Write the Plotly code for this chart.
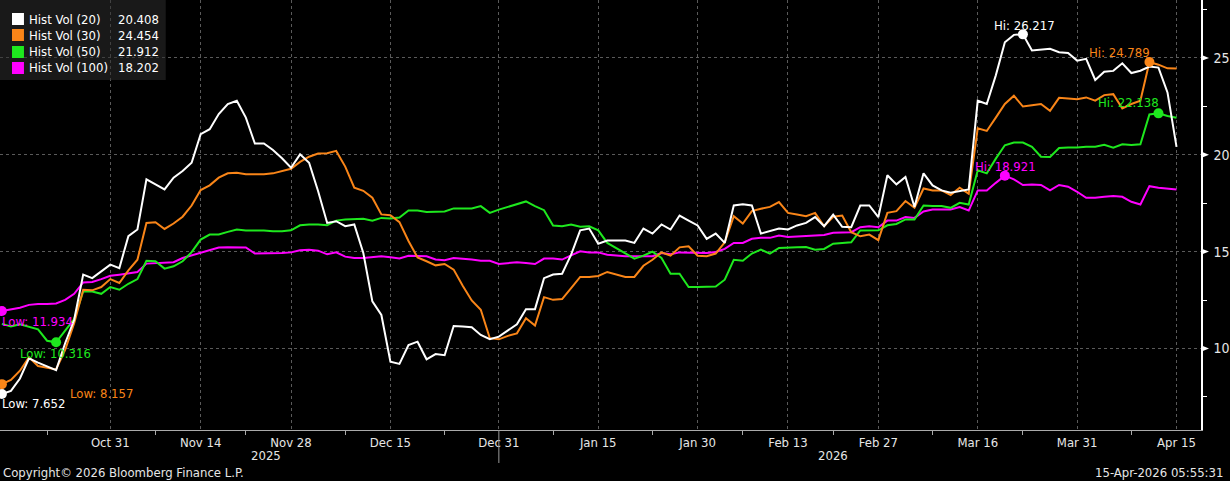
import pandas as pd
import plotly.graph_objects as go

# ---------------- data ----------------
dates = pd.bdate_range("2025-10-15", "2026-04-15")

hv20 = [7.652, 7.81, 8.45, 9.49, 9.27, 9.06, 8.88, 10.27, 11.48, 13.81,
        13.63, 13.98, 14.33, 14.15, 15.8, 16.14, 18.73, 18.47, 18.21, 18.82,
        19.16, 19.59, 21.06, 21.32, 22.1, 22.62, 22.79, 21.92, 20.58, 20.58,
        20.25, 19.82, 19.33, 20.02, 19.59, 18.12, 16.48, 16.57, 16.31, 16.4,
        14.93, 12.43, 11.73, 9.32, 9.2, 10.18, 10.35, 9.44, 9.71, 9.65,
        11.16, 11.13, 11.1, 10.7, 10.48, 10.61, 10.92, 11.25, 12.03, 12.03,
        13.63, 13.82, 13.86, 14.84, 16.1, 16.19, 15.41, 15.57, 15.57, 15.57,
        15.45, 16.19, 15.93, 16.4, 16.14, 16.86, 16.6, 16.35, 15.66, 15.93,
        15.45, 17.38, 17.44, 17.38, 15.93, 16.05, 16.19, 16.14, 16.35, 16.48,
        16.78, 16.31, 16.91, 16.28, 16.26, 17.38, 17.38, 16.78, 18.94, 18.47,
        18.85, 17.3, 19.04, 18.42, 18.16, 18.04, 18.12, 18.21, 22.79, 22.62,
        24.1, 25.81, 26.19, 26.217, 25.38, 25.43, 25.47, 25.29, 25.26, 24.86,
        24.95, 23.86, 24.29, 24.33, 24.72, 24.22, 24.34, 24.55, 24.5, 23.22,
        20.408]

hv30 = [8.157, 8.37, 8.85, 9.54, 9.09, 9.02, 8.92, 9.92, 11.3, 13.03,
        13.0, 13.17, 13.58, 13.38, 14.03, 14.58, 16.48, 16.52, 16.17, 16.45,
        16.8, 17.38, 18.18, 18.42, 18.82, 19.04, 19.07, 18.99, 18.99, 18.99,
        19.04, 19.16, 19.28, 19.63, 19.9, 20.06, 20.08, 20.2, 19.39, 18.3,
        18.14, 17.78, 16.92, 16.88, 16.52, 15.55, 14.7, 14.5, 14.29, 14.36,
        14.07, 13.24, 12.48, 12.0, 10.53, 10.47, 10.65, 10.78, 11.56, 11.18,
        12.65, 12.51, 12.55, 13.12, 13.69, 13.69, 13.74, 13.95, 13.84, 13.69,
        13.69, 14.27, 14.58, 14.96, 14.79, 15.22, 15.27, 14.79, 14.76, 14.9,
        15.48, 16.83, 16.45, 17.09, 17.21, 17.31, 17.56, 17.0, 16.92, 16.83,
        17.0, 16.31, 16.8, 16.86, 16.0, 15.79, 15.88, 15.59, 17.0, 17.09,
        17.61, 17.26, 18.26, 18.16, 18.16, 17.92, 18.3, 17.99, 21.37, 21.23,
        21.92, 22.62, 23.05, 22.49, 22.56, 22.62, 22.27, 22.94, 22.91, 22.87,
        22.96, 22.79, 23.08, 23.13, 22.39, 22.62, 22.79, 24.789, 24.65, 24.46,
        24.454]

hv50 = [11.27, 11.13, 11.25, 11.13, 10.99, 10.4, 10.316, 10.92, 11.51, 12.94,
        12.94, 12.82, 13.17, 13.03, 13.34, 13.58, 14.53, 14.5, 14.12, 14.24,
        14.5, 14.97, 15.62, 15.88, 15.88, 16.02, 16.14, 16.09, 16.09, 16.09,
        16.05, 16.05, 16.1, 16.36, 16.4, 16.4, 16.36, 16.6, 16.66, 16.69,
        16.69, 16.6, 16.74, 16.71, 16.76, 17.12, 17.12, 17.05, 17.05, 17.07,
        17.23, 17.23, 17.23, 17.35, 17.0, 17.17, 17.31, 17.43, 17.59, 17.35,
        17.14, 16.35, 16.31, 16.4, 16.28, 16.31, 16.1, 15.45, 15.19, 14.9,
        14.64, 14.79, 15.0, 14.67, 13.86, 13.86, 13.17, 13.17, 13.17, 13.2,
        13.55, 14.58, 14.53, 14.9, 15.1, 14.9, 15.19, 15.19, 15.22, 15.24,
        15.1, 15.14, 15.41, 15.45, 15.48, 16.09, 16.09, 16.1, 16.36, 16.43,
        16.66, 16.66, 17.38, 17.35, 17.36, 17.26, 17.52, 17.43, 19.2, 19.04,
        19.8, 20.49, 20.63, 20.63, 20.41, 19.9, 19.89, 20.35, 20.37, 20.37,
        20.41, 20.42, 20.51, 20.37, 20.54, 20.51, 20.54, 22.08, 22.138, 22.0,
        21.912]

hv100 = [11.934, 12.03, 12.1, 12.25, 12.29, 12.29, 12.32, 12.51, 12.82, 13.41,
         13.43, 13.58, 13.75, 13.81, 13.89, 13.95, 14.38, 14.41, 14.41, 14.45,
         14.67, 14.81, 14.96, 15.1, 15.21, 15.22, 15.22, 15.21, 14.9, 14.9,
         14.9, 14.93, 14.96, 15.07, 15.1, 15.05, 14.86, 14.96, 14.74, 14.67,
         14.67, 14.71, 14.76, 14.71, 14.65, 14.79, 14.79, 14.76, 14.59, 14.55,
         14.67, 14.64, 14.59, 14.53, 14.53, 14.36, 14.41, 14.45, 14.41, 14.36,
         14.64, 14.64, 14.59, 14.79, 15.02, 14.96, 14.96, 14.84, 14.79, 14.76,
         14.76, 14.76, 14.76, 14.93, 14.86, 14.96, 14.96, 14.96, 14.93, 14.98,
         15.14, 15.45, 15.45, 15.66, 15.71, 15.71, 15.83, 15.76, 15.79, 15.83,
         15.83, 15.86, 15.97, 15.98, 16.0, 16.26, 16.31, 16.26, 16.6, 16.6,
         16.78, 16.74, 17.07, 17.17, 17.17, 17.17, 17.3, 17.12, 18.16, 18.16,
         18.55, 18.921, 18.73, 18.44, 18.47, 18.44, 18.16, 18.44, 18.35, 18.09,
         17.78, 17.78, 17.83, 17.87, 17.83, 17.57, 17.43, 18.38, 18.3, 18.26,
         18.202]

series_names = ["Hist Vol (20)", "Hist Vol (30)", "Hist Vol (50)", "Hist Vol (100)"]
series_values = [hv20, hv30, hv50, hv100]

x_tick_dates = ["2025-10-31", "2025-11-14", "2025-11-28", "2025-12-15", "2025-12-31",
                "2026-01-15", "2026-01-30", "2026-02-13", "2026-02-27", "2026-03-16",
                "2026-03-31", "2026-04-15"]
x_tick_labels = ["Oct 31", "Nov 14", "Nov 28", "Dec 15", "Dec 31", "Jan 15", "Jan 30",
                 "Feb 13", "Feb 27", "Mar 16", "Mar 31", "Apr 15"]
x_minor_dates = ["2025-10-22", "2025-11-07", "2025-11-21", "2025-12-08", "2025-12-23",
                 "2026-01-08", "2026-01-23", "2026-02-06", "2026-02-20", "2026-03-09",
                 "2026-03-23", "2026-04-08"]
year_labels = ["2025", "2026"]
y_ticks = [10, 15, 20, 25]
y_minor = [7.5, 12.5, 17.5, 22.5, 27.5]

# ---------------- style ----------------
colors = ["#ffffff", "#f98518", "#1ee81e", "#ff00ff"]
FONT = "DejaVu Sans Condensed, Liberation Sans Narrow, Roboto Condensed, Roboto, sans-serif"
TXT = "#e6e6e6"
PW, PH = 1203, 430          # plot area in px
YMIN, YMAX = 5.79, 27.99


def px(x):
    return x / PW


def py(y):
    return 1 - y / PH


# label placement for Hi / Low (xanchor, xshift, yshift)
hi_pos = [("center", 2, 9), ("right", 3, 10), ("right", 3, 11), ("center", 1, 9)]
lo_pos = [("left", -2, -10), ("left", 66, -9), ("center", -1, -11), ("left", -2, -11)]

fig = go.Figure()

# lines (drawn so the first series ends on top)
for k in reversed(range(4)):
    fig.add_trace(go.Scatter(x=dates, y=series_values[k], mode="lines",
                             line=dict(color=colors[k], width=2),
                             name=series_names[k], showlegend=False, hoverinfo="skip"))

annotations = []
for k in range(4):
    vals = series_values[k]
    imax = max(range(len(vals)), key=lambda i: vals[i])
    imin = min(range(len(vals)), key=lambda i: vals[i])
    fig.add_trace(go.Scatter(x=[dates[imax], dates[imin]], y=[vals[imax], vals[imin]],
                             mode="markers", marker=dict(color=colors[k], size=10),
                             showlegend=False, hoverinfo="skip", cliponaxis=False))
    for (idx, lab, pos) in [(imax, "Hi", hi_pos[k]), (imin, "Low", lo_pos[k])]:
        annotations.append(dict(x=dates[idx], y=vals[idx], xref="x", yref="y",
                                text=f"{lab}: {vals[idx]:.3f}", showarrow=False,
                                xanchor=pos[0], xshift=pos[1], yshift=pos[2],
                                yanchor="middle",
                                font=dict(family=FONT, size=13, color=colors[k])))

shapes = []
# legend box
shapes.append(dict(type="rect", xref="paper", yref="paper", x0=px(0), x1=px(166),
                   y0=py(80), y1=py(0), fillcolor="rgba(45,45,45,0.55)",
                   line=dict(width=0), layer="above"))
row_y = [19, 35, 52, 68]
for k in range(4):
    shapes.append(dict(type="rect", xref="paper", yref="paper", x0=px(12), x1=px(24),
                       y0=py(row_y[k] + 6), y1=py(row_y[k] - 6), fillcolor=colors[k],
                       line=dict(width=0), layer="above"))
    annotations.append(dict(xref="paper", yref="paper", x=px(27), y=py(row_y[k]),
                            text=series_names[k], showarrow=False, xanchor="left",
                            yanchor="middle", font=dict(family=FONT, size=13, color="#ffffff")))
    annotations.append(dict(xref="paper", yref="paper", x=px(161), y=py(row_y[k]),
                            text=f"{series_values[k][-1]:.3f}", showarrow=False,
                            xanchor="right", yanchor="middle",
                            font=dict(family=FONT, size=13, color="#ffffff")))

# right-axis tick flags
dv = 3.2 / (PH / (YMAX - YMIN))
for v in y_ticks:
    shapes.append(dict(type="path", xref="paper", yref="y",
                       path=f"M 1,{v + dv} L {1 + 8 / PW},{v} L 1,{v - dv} Z",
                       fillcolor="#ffffff", line=dict(width=0), layer="above"))

# year separator tick
shapes.append(dict(type="line", xref="x", yref="paper", x0="2025-12-31", x1="2025-12-31",
                   y0=0, y1=-33 / PH, line=dict(color="#999999", width=1)))

# year labels
annotations.append(dict(xref="paper", yref="paper", x=px(249), y=0, yshift=-25,
                        text=year_labels[0], showarrow=False, yanchor="middle",
                        font=dict(family=FONT, size=13, color=TXT)))
annotations.append(dict(xref="paper", yref="paper", x=px(851), y=0, yshift=-25,
                        text=year_labels[1], showarrow=False, yanchor="middle",
                        font=dict(family=FONT, size=13, color=TXT)))
# footer
annotations.append(dict(xref="paper", yref="paper", x=px(1), y=0, yshift=-42,
                        text="Copyright© 2026 Bloomberg Finance L.P.", showarrow=False,
                        xanchor="left", yanchor="middle",
                        font=dict(family=FONT, size=13, color=TXT)))
annotations.append(dict(xref="paper", yref="paper", x=px(1227), y=0, yshift=-42,
                        text="15-Apr-2026 05:55:31", showarrow=False,
                        xanchor="right", yanchor="middle",
                        font=dict(family=FONT, size=13, color=TXT)))

fig.update_layout(
    width=1230, height=481,
    margin=dict(l=0, r=27, t=0, b=51),
    paper_bgcolor="#000000", plot_bgcolor="#000000",
    showlegend=False,
    shapes=shapes, annotations=annotations,
    font=dict(family=FONT, size=13, color=TXT),
    xaxis=dict(
        type="date",
        range=["2025-10-14 19:00", "2026-04-17 17:00"],
        rangebreaks=[dict(bounds=["sat", "mon"])],
        tickmode="array", tickvals=x_tick_dates, ticktext=x_tick_labels,
        ticks="", showgrid=True, gridcolor="#5a5a5a", griddash="dot", gridwidth=1,
        showline=True, linecolor="#aaaaaa", linewidth=1,
        tickfont=dict(family=FONT, size=13, color=TXT),
        minor=dict(tickmode="array", tickvals=x_minor_dates, ticks="outside",
                   ticklen=4, tickcolor="#aaaaaa", showgrid=False),
        zeroline=False, fixedrange=True,
    ),
    yaxis=dict(
        side="right", range=[YMIN, YMAX],
        tickmode="array", tickvals=y_ticks, ticktext=[str(v) for v in y_ticks],
        ticks="outside", ticklen=8, tickcolor="rgba(0,0,0,0)",
        showgrid=True, gridcolor="#5a5a5a", griddash="dot", gridwidth=1,
        showline=True, linecolor="#ffffff", linewidth=1.5,
        tickfont=dict(family=FONT, size=14, color=TXT),
        minor=dict(tickmode="array", tickvals=y_minor, ticks="outside", ticklen=4,
                   tickcolor="#ffffff", showgrid=False),
        zeroline=False, fixedrange=True,
    ),
)

fig.write_html("out.html")
